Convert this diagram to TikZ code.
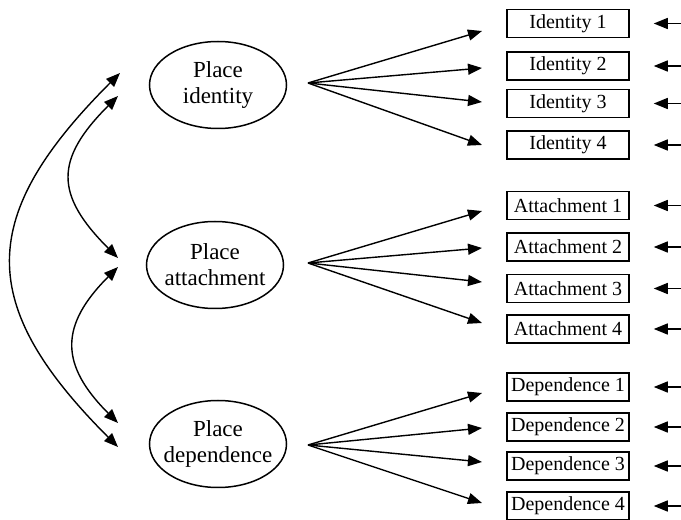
\documentclass[tikz,border=0pt]{standalone}
\usepackage{fontspec}
\setmainfont{Liberation Serif}
\usetikzlibrary{shapes.geometric,arrows.meta}
\begin{document}
\begin{tikzpicture}
[x=1pt,y=1pt,
  latentdecorate/.style={shape=ellipse,draw,line width=1.5pt,minimum width=137pt,
    minimum height=87pt,inner xsep=-15pt,inner ysep=0pt,align=center,
    font=\fontsize{23}{26}\selectfont},
  itemdecorate/.style={shape=rectangle,draw,line width=1.5pt,minimum width=122pt,
    minimum height=28pt,inner sep=0pt,font=\fontsize{20}{22}\selectfont},
  arrowdecorate/.style={-{Triangle[length=14pt,width=11pt]},line width=1.4pt},
  biarrowdecorate/.style={{Triangle[length=14pt,width=11pt]}-{Triangle[length=14pt,width=11pt]},
    line width=1.4pt}]
\useasboundingbox (0,0) rectangle (681,520);
%% latent factors
\foreach \nodename/\x/\y/\sy/\second in {pi/218/435/437/identity,
  pa/215/255/257/attachment, pd/218/76/75/dependence} {
  \node (\nodename) at (\x,\y) [latentdecorate] {Place\\\second};
  \coordinate (\nodename-src) at (308,\sy);
}
%% indicators
\foreach \nodename/\itemtext/\y/\tipy in {id1/Identity 1/496.5/489,
  id2/Identity 2/454/452, id3/Identity 3/416.5/418, id4/Identity 4/375/375,
  at1/Attachment 1/314.5/309, at2/Attachment 2/273/272,
  at3/Attachment 3/231.5/238, at4/Attachment 4/191/197,
  de1/Dependence 1/133/127, de2/Dependence 2/93/92,
  de3/Dependence 3/54/58, de4/Dependence 4/14/17} {
  \node (\nodename) at (568,\y) [itemdecorate] {\itemtext};
  \coordinate (\nodename-tip) at (482,\tipy);
  \coordinate (\nodename-err) at (681,\y);
}
%% loadings
\path
\foreach \startnode/\endnode in {pi/id1, pi/id2, pi/id3, pi/id4,
  pa/at1, pa/at2, pa/at3, pa/at4, pd/de1, pd/de2, pd/de3, pd/de4} {
  (\startnode-src) edge[arrowdecorate] (\endnode-tip)
};
%% error terms
\path
\foreach \endnode in {id1, id2, id3, id4, at1, at2, at3, at4, de1, de2, de3, de4} {
  (\endnode-err) edge[arrowdecorate,shorten >=24pt] (\endnode.east)
};
%% correlations
\coordinate (pi-c1) at (120,447);
\coordinate (pi-c2) at (118,424);
\coordinate (pa-c1) at (118,262);
\coordinate (pa-c2) at (118,253);
\coordinate (pd-c1) at (118,97);
\coordinate (pd-c2) at (118,73);
\draw[biarrowdecorate] (pi-c1) to[out=225,in=135,looseness=1.38] (pd-c2);
\draw[biarrowdecorate] (pi-c2) to[out=225,in=135,looseness=1.42] (pa-c1);
\draw[biarrowdecorate] (pa-c2) to[out=225,in=135,looseness=1.36] (pd-c1);
\end{tikzpicture}
\end{document}
